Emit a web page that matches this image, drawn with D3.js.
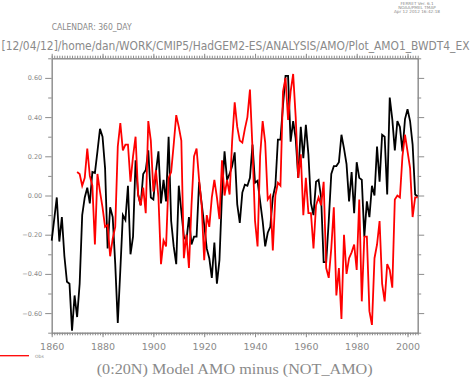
<!DOCTYPE html>
<html>
<head>
<meta charset="utf-8">
<script src="https://cdn.jsdelivr.net/npm/d3@7"></script>
<style>
    body { margin: 0; background: #fff; }
    svg { display: block; }
    text { font-family: "DejaVu Sans", sans-serif; fill: #8a8a8a; }
</style>
</head>
<body>
<svg width="475" height="377"></svg>
<script>
const width = 475;
const height = 377;
const plot = { left: 51.7, right: 417.7, top: 58.3, bottom: 332.7 };

// model AMO (black), one value per year from 1860
const modelStart = 1860;
const modelValues = [
    -0.23, -0.12, -0.01, -0.235, -0.11, -0.31, -0.44, -0.45, -0.69, -0.51,
    -0.62, -0.45, -0.10, -0.01, 0.04, -0.04, 0.12, 0.115, 0.225, 0.34,
    0.30, 0.14, -0.27, -0.06, -0.11, -0.35, -0.65, -0.38, -0.10, -0.125,
    0.05, -0.30, -0.21, 0.18, 0.005, -0.05, 0.11, 0.13, 0.23, -0.01,
    -0.02, 0.12, 0.225, -0.04, 0.08, -0.03, 0.30, -0.13, -0.26, -0.35,
    0.05, -0.08, -0.21, -0.23, -0.11, -0.25, -0.21, -0.21, 0.07, -0.04,
    -0.15, -0.27, -0.32, -0.42, -0.24, -0.45, -0.33, 0.005, 0.225, 0.08,
    0.11, 0.15, 0.22, -0.045, -0.14, 0.015, 0.055, 0.05, 0.09, 0.26,
    0.065, 0.075, -0.03, -0.13, -0.26, -0.19, -0.16, -0.01, 0.05, 0.285,
    0.285, 0.46, 0.61, 0.61, 0.275, 0.38, 0.29, 0.09, 0.35, 0.19,
    0.36, 0.21, -0.04, -0.10, 0.07, 0.08, -0.01, -0.34, -0.34, -0.13,
    0.11, 0.15, 0.15, 0.17, 0.31, 0.24, 0.16, -0.03, 0.12, -0.09,
    0.17, 0.09, 0.08, -0.21, -0.03, -0.11, 0.05, 0.00, 0.25, 0.07,
    0.31, 0.30, 0.005, 0.50, 0.39, 0.23, 0.38, 0.35, 0.225, 0.39,
    0.44, 0.38, 0.26, 0.005, -0.005
];

// observations (red), one value per year from 1870
const obsStart = 1870;
const obsValues = [
    0.12, 0.11, 0.05, 0.09, 0.24, 0.10, 0.05, -0.25, 0.11, 0.02,
    -0.06, -0.16, -0.15, -0.31, -0.22, -0.16, 0.25, 0.37, 0.23, 0.26,
    0.26, 0.07, 0.20, 0.30, 0.005, -0.05, 0.04, -0.09, 0.38, 0.28,
    0.02, 0.13, -0.01, -0.35, -0.23, -0.26, 0.09, 0.12, 0.26, 0.41,
    0.35, 0.28, -0.32, -0.20, -0.37, -0.05, 0.20, 0.24, 0.08, -0.05,
    -0.33, -0.10, -0.16, -0.01, 0.08, -0.01, -0.12, 0.18, 0.00, 0.08,
    0.005, 0.28, 0.475, 0.35, 0.28, 0.27, 0.34, 0.40, 0.54, 0.24,
    -0.13, -0.26, 0.20, 0.38, 0.27, -0.02, 0.00, -0.28, 0.00, 0.065,
    0.05, 0.53, 0.60, 0.385, 0.53, 0.62, 0.40, 0.09, 0.21, -0.10,
    0.09, -0.09, -0.09, -0.27, -0.05, -0.01, -0.05, 0.07, -0.37, -0.42,
    -0.27, -0.06, -0.51, -0.37, -0.63, -0.20, -0.40, -0.32, -0.29, -0.25,
    -0.38, -0.02, -0.54, -0.21, -0.21, -0.59, -0.66, -0.32, -0.25, -0.13,
    -0.45, -0.54, -0.35, -0.38, -0.47, -0.02, 0.00, -0.01, 0.20, 0.31,
    0.225, 0.14, -0.11, -0.01, -0.01
];

const xTicks = [1860, 1880, 1900, 1920, 1940, 1960, 1980, 2000];
const yTicks = [-0.6, -0.4, -0.2, 0.0, 0.2, 0.4, 0.6];
const yMinorTicks = [-0.7, -0.5, -0.3, -0.1, 0.1, 0.3, 0.5, 0.7];
const headerLines = ["FERRET Ver. 6.1", "NOAA/PMEL TMAP", "Apr 12 2012 16:42:18"];
const calendarLabel = "CALENDAR: 360_DAY";
const pathLabel = "[12/04/12]/home/dan/WORK/CMIP5/HadGEM2-ES/ANALYSIS/AMO/Plot_AMO1_BWDT4_EX";
const titleLabel = "(0:20N) Model AMO minus (NOT_AMO)";
const legendLabel = "Obs";

const axisColor = "#8c8c8c";

const svg = d3.select("svg");

const x = d3.scaleLinear().domain([1860, 2004]).range([plot.left, plot.right]);
const y = d3.scaleLinear().domain([-0.7, 0.7]).range([plot.bottom, plot.top]);

const years = d3.range(1860, 2005);

// helper to style an axis group
const styleAxis = (g) => {
    g.select(".domain").attr("stroke", axisColor);
    g.selectAll(".tick line").attr("stroke", axisColor);
    g.selectAll(".tick text")
        .attr("fill", "#8a8a8a")
        .style("font-family", "DejaVu Sans, sans-serif");
};

// minor year ticks (bottom + top)
svg.append("g")
    .attr("transform", `translate(0,${plot.bottom})`)
    .call(d3.axisBottom(x).tickValues(years).tickSize(2.6).tickSizeOuter(0).tickFormat(""))
    .call(styleAxis);
svg.append("g")
    .attr("transform", `translate(0,${plot.top})`)
    .call(d3.axisTop(x).tickValues(years).tickSize(2.6).tickSizeOuter(0).tickFormat(""))
    .call(styleAxis);

// major year ticks
svg.append("g")
    .attr("transform", `translate(0,${plot.bottom})`)
    .call(d3.axisBottom(x).tickValues(xTicks).tickSize(4.5).tickSizeOuter(0).tickPadding(6).tickFormat(d3.format("d")))
    .call(styleAxis)
    .call((g) => g.selectAll(".tick text").style("font-size", "9.5px"));
svg.append("g")
    .attr("transform", `translate(0,${plot.top})`)
    .call(d3.axisTop(x).tickValues(xTicks).tickSize(4.5).tickSizeOuter(0).tickFormat(""))
    .call(styleAxis);

// y axes (left labelled, right ticks only)
svg.append("g")
    .attr("transform", `translate(${plot.left},0)`)
    .call(d3.axisLeft(y).tickValues(yMinorTicks).tickSize(3.5).tickSizeOuter(0).tickFormat(""))
    .call(styleAxis);
svg.append("g")
    .attr("transform", `translate(${plot.left},0)`)
    .call(d3.axisLeft(y).tickValues(yTicks).tickSize(6.5).tickSizeOuter(0).tickPadding(3).tickFormat((d) => d3.format(".2f")(d).replace("-", "\u2212")))
    .call(styleAxis)
    .call((g) => g.selectAll(".tick text").style("font-size", "6.5px"));
svg.append("g")
    .attr("transform", `translate(${plot.right},0)`)
    .call(d3.axisRight(y).tickValues(yMinorTicks).tickSize(3.5).tickSizeOuter(0).tickFormat(""))
    .call(styleAxis);
svg.append("g")
    .attr("transform", `translate(${plot.right},0)`)
    .call(d3.axisRight(y).tickValues(yTicks).tickSize(6.5).tickSizeOuter(0).tickFormat(""))
    .call(styleAxis);

// lines
const line = d3.line()
    .x((d) => x(d.year))
    .y((d) => y(d.value));

const modelData = modelValues.map((v, i) => ({ year: modelStart + i, value: v }));
const obsData = obsValues.map((v, i) => ({ year: obsStart + i, value: v }));

svg.append("path")
    .datum(modelData)
    .attr("d", line)
    .attr("fill", "none")
    .attr("stroke", "#000")
    .attr("stroke-width", 1.8)
    .attr("stroke-linejoin", "miter");

svg.append("path")
    .datum(obsData)
    .attr("d", line)
    .attr("fill", "none")
    .attr("stroke", "#ff0000")
    .attr("stroke-width", 1.8)
    .attr("stroke-linejoin", "miter");

// header texts
svg.append("g")
    .selectAll("text")
    .data(headerLines)
    .join("text")
    .attr("x", 417)
    .attr("y", (d, i) => 4.5 + i * 4)
    .attr("text-anchor", "middle")
    .style("font-size", "4.2px")
    .attr("fill", "#666")
    .text((d) => d);

svg.append("text")
    .attr("x", plot.left)
    .attr("y", 29.5)
    .style("font-size", "8px")
    .attr("textLength", 80)
    .attr("lengthAdjust", "spacingAndGlyphs")
    .text(calendarLabel);

// long path line: smaller font stretched vertically so it fits the width
svg.append("text")
    .attr("transform", "translate(1.5,49.5) scale(1,1.2)")
    .style("font-size", "10.4px")
    .attr("fill", "#939393")
    .attr("textLength", 468)
    .attr("lengthAdjust", "spacingAndGlyphs")
    .text(pathLabel);

svg.append("text")
    .attr("x", (plot.left + plot.right) / 2)
    .attr("y", 373.5)
    .attr("text-anchor", "middle")
    .style("font-family", "Liberation Serif, serif")
    .style("font-size", "15px")
    .attr("fill", "#aaa")
    .attr("textLength", 276)
    .attr("lengthAdjust", "spacingAndGlyphs")
    .text(titleLabel);

// legend
svg.append("line")
    .attr("x1", 0)
    .attr("x2", 29)
    .attr("y1", 355.7)
    .attr("y2", 355.7)
    .attr("stroke", "#ff0000")
    .attr("stroke-width", 1.3);

svg.append("text")
    .attr("x", 35)
    .attr("y", 358)
    .style("font-size", "4.5px")
    .text(legendLabel);
</script>
</body>
</html>
